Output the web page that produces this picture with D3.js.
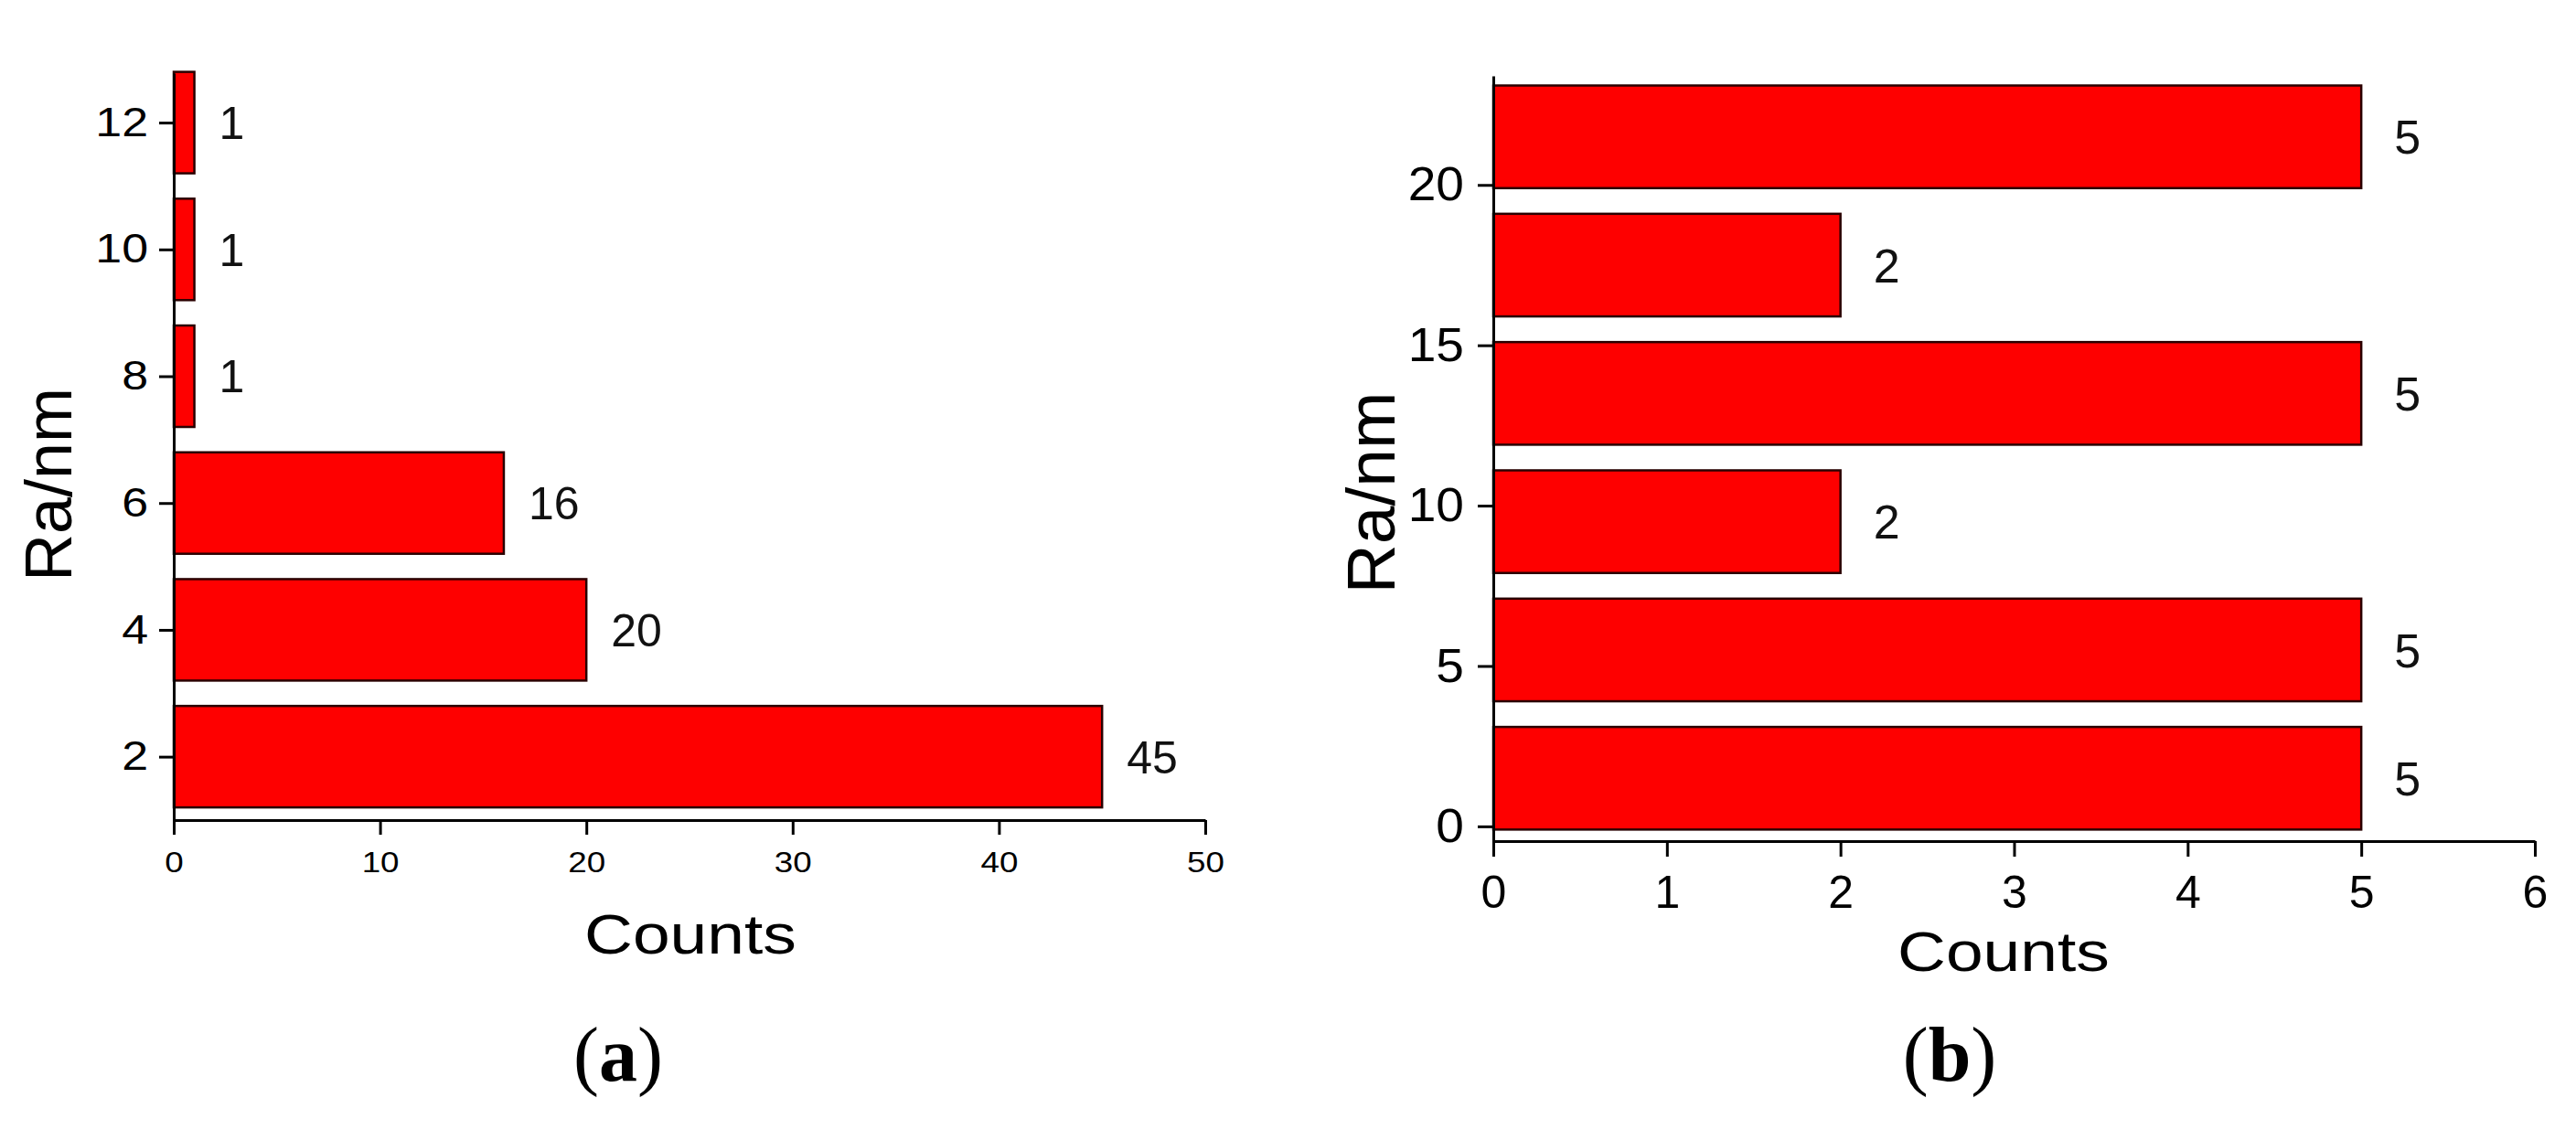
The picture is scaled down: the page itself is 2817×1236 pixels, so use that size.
<!DOCTYPE html>
<html>
<head>
<meta charset="utf-8">
<script src="https://cdn.jsdelivr.net/npm/d3@7"></script>
<style>
  html, body { margin: 0; padding: 0; background: #fff; }
  svg { display: block; }
</style>
</head>
<body>
<svg id="chart" width="2817" height="1236"></svg>
<script>
// ---------- data ----------
const aCategories = [2, 4, 6, 8, 10, 12];     // Ra/nm (panel a)
const aCounts     = [45, 20, 16, 1, 1, 1];
const aXTicks     = [0, 10, 20, 30, 40, 50];
const aYTicks     = [2, 4, 6, 8, 10, 12];

const bCategories = [1.5, 5.5, 9.5, 13.5, 17.5, 21.5]; // Ra/nm bin centres (panel b)
const bCounts     = [5, 5, 2, 5, 2, 5];
const bXTicks     = [0, 1, 2, 3, 4, 5, 6];
const bYTicks     = [0, 5, 10, 15, 20];

const xTitle = "Counts";
const yTitle = "Ra/nm";
const captions = ["a", "b"];

// ---------- setup ----------
const svg = d3.select("#chart");
svg.append("rect").attr("width", 2817).attr("height", 1236).attr("fill", "#fff");
const SANS = "'Liberation Sans', Arial, Helvetica, sans-serif";
const SERIF = "'Liberation Serif', 'Times New Roman', serif";

function stretch(sel, sx) {
  sel.each(function () {
    const t = d3.select(this);
    const x = +t.attr("x") || 0;
    t.attr("transform", `translate(${x * (1 - sx)},0) scale(${sx},1)`);
  });
}

function panel(cfg) {
  const g = svg.append("g");
  const x = d3.scaleLinear().domain(cfg.xDomain).range(cfg.xRange);
  const y = d3.scaleLinear().domain(cfg.yDomain).range(cfg.yRange);
  const half = cfg.barHalf;

  // bars
  g.selectAll("rect.bar").data(cfg.cats.map((c, i) => ({ c, v: cfg.vals[i] })))
    .join("rect").attr("class", "bar")
    .attr("x", x(0))
    .attr("y", d => y(d.c + half))
    .attr("width", d => x(d.v) - x(0))
    .attr("height", d => y(d.c - half) - y(d.c + half))
    .attr("fill", "#fe0000")
    .attr("stroke", "#2a0000")
    .attr("stroke-width", 2.5);

  // value labels
  g.selectAll("text.val").data(cfg.cats.map((c, i) => ({ c, v: cfg.vals[i] })))
    .join("text").attr("class", "val")
    .attr("x", d => x(d.v) + cfg.valOffset)
    .attr("y", d => y(d.c) + cfg.valFont * 0.358)
    .attr("font-family", SANS)
    .attr("font-size", cfg.valFont)
    .attr("fill", "#111")
    .text(d => d.v);

  // x axis
  const xa = g.append("g").attr("transform", `translate(0,${cfg.yRange[0]})`)
    .call(d3.axisBottom(x).tickValues(cfg.xTicks).tickSize(cfg.tickLen).tickSizeOuter(0).tickFormat(d3.format("d")));
  xa.select(".domain").attr("stroke", "#000").attr("stroke-width", 3);
  xa.selectAll(".tick line").attr("stroke", "#000").attr("stroke-width", 3);
  xa.selectAll(".tick text")
    .attr("y", cfg.xLabelBase).attr("dy", 0)
    .attr("font-family", SANS).attr("font-size", cfg.xTickFont).attr("fill", "#000");
  stretch(xa.selectAll(".tick text"), cfg.xTickSx);

  // y axis
  const ya = g.append("g").attr("transform", `translate(${cfg.xRange[0]},0)`)
    .call(d3.axisLeft(y).tickValues(cfg.yTicks).tickSize(cfg.tickLen).tickPadding(cfg.yPad).tickSizeOuter(0).tickFormat(d3.format("d")));
  ya.select(".domain").attr("stroke", "#000").attr("stroke-width", 3);
  ya.selectAll(".tick line").attr("stroke", "#000").attr("stroke-width", 3);
  ya.selectAll(".tick text")
    .attr("font-family", SANS).attr("font-size", cfg.yTickFont).attr("fill", "#000");
  stretch(ya.selectAll(".tick text"), cfg.yTickSx);

  // axis titles
  g.append("text")
    .attr("transform", `translate(${cfg.xTitlePos[0]},${cfg.xTitlePos[1]}) scale(1.18,1)`)
    .attr("text-anchor", "middle")
    .attr("font-family", SANS).attr("font-size", cfg.xTitleFont).attr("fill", "#000")
    .text(xTitle);
  g.append("text")
    .attr("transform", `translate(${cfg.yTitlePos[0]},${cfg.yTitlePos[1]}) rotate(-90)`)
    .attr("text-anchor", "middle")
    .attr("font-family", SANS).attr("font-size", cfg.yTitleFont).attr("fill", "#000")
    .text(yTitle);

  // caption
  const cap = g.append("text")
    .attr("x", cfg.capPos[0]).attr("y", cfg.capPos[1])
    .attr("text-anchor", "middle")
    .attr("font-family", SERIF).attr("font-size", 84).attr("fill", "#000");
  cap.append("tspan").text("(");
  cap.append("tspan").attr("font-weight", "bold").text(cfg.caption);
  cap.append("tspan").text(")");
}

panel({
  cats: aCategories, vals: aCounts, xTicks: aXTicks, yTicks: aYTicks,
  xDomain: [0, 50], xRange: [190, 1318],
  yDomain: [1, 12.78], yRange: [897, 80],
  barHalf: 0.8,
  valOffset: 27, valFont: 50,
  tickLen: 16, xLabelBase: 57, xTickFont: 32, xTickSx: 1.15,
  yPad: 12, yTickFont: 44, yTickSx: 1.18,
  xTitlePos: [755, 1043], xTitleFont: 62,
  yTitlePos: [78, 530], yTitleFont: 72,
  capPos: [676, 1182], caption: captions[0]
});

panel({
  cats: bCategories, vals: bCounts, xTicks: bXTicks, yTicks: bYTicks,
  xDomain: [0, 6], xRange: [1633, 2772],
  yDomain: [-0.46, 23.4], yRange: [920, 83],
  barHalf: 1.6,
  valOffset: 36, valFont: 52,
  tickLen: 17, xLabelBase: 73, xTickFont: 50, xTickSx: 1.0,
  yPad: 15, yTickFont: 52, yTickSx: 1.06,
  xTitlePos: [2191, 1062], xTitleFont: 62,
  yTitlePos: [1525, 539], yTitleFont: 75,
  capPos: [2132, 1182], caption: captions[1]
});
</script>
</body>
</html>
